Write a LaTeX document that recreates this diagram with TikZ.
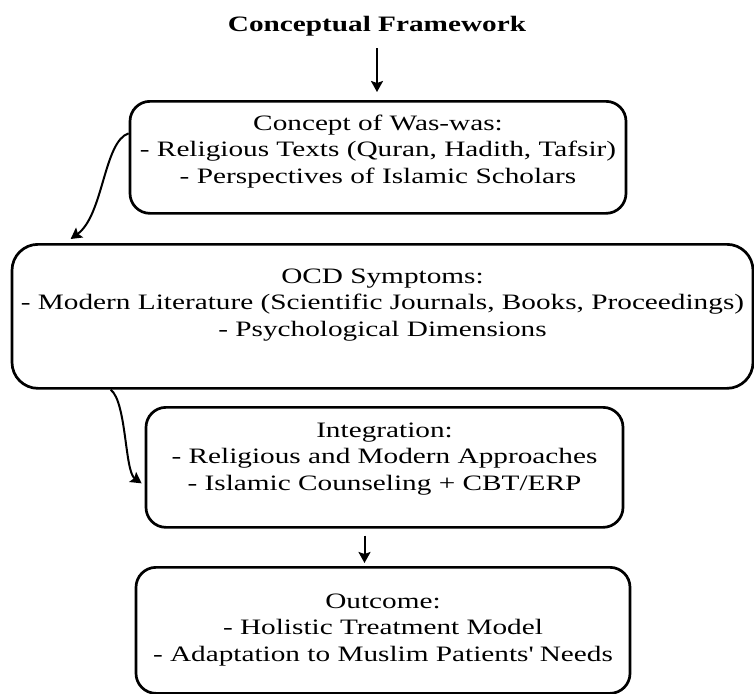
\documentclass[tikz,border=0pt]{standalone}
\usepackage{fontspec}
\setmainfont[FakeStretch=1.33]{Liberation Serif}
\usetikzlibrary{arrows.meta}
\tikzset{
  box/.style={draw, line width=2.7pt, rounded corners=20pt, inner sep=0pt, anchor=north, align=center, font=\fontsize{22}{26.5}\selectfont},
  arr/.style={line width=2pt, -{Stealth[length=11pt,width=12pt,inset=2pt]}}
}
\begin{document}
\begin{tikzpicture}[x=1pt,y=1pt]
\useasboundingbox (0,0) rectangle (754,-693);
\node at (377,-32) [anchor=base, font=\fontsize{22}{26.5}\selectfont\bfseries](title){Conceptual Framework};
\node at (378,-100) [box, minimum width=496pt, text height=82pt, text depth=30pt](concept){Concept of Was-was:\\- Religious Texts (Quran, Hadith, Tafsir)\\- Perspectives of Islamic Scholars};
\node at (382.5,-243) [box, rounded corners=26pt, minimum width=741pt, text height=92pt, text depth=52pt](ocd){OCD Symptoms:\\- Modern Literature (Scientific Journals, Books, Proceedings)\\- Psychological Dimensions};
\node at (384.5,-406) [box, minimum width=477pt, text height=83pt, text depth=37pt](integ){Integration:\\- Religious and Modern Approaches\\- Islamic Counseling + CBT/ERP};
\node at (383,-566) [box, minimum width=494pt, text height=94pt, text depth=32pt](outcome){Outcome:\\- Holistic Treatment Model\\- Adaptation to Muslim Patients\textquotesingle{} Needs};
\draw[arr, shorten <=8pt, shorten >=8pt] (title.south) -- (title.south |- concept.north);
\draw[arr] ([yshift=24pt]concept.west) .. controls +(-25,-8) and +(33,24) .. ([xshift=60pt,yshift=4pt]ocd.north west);
\draw[arr] ([xshift=100pt]ocd.south west) .. controls +(16,-12) and +(-17,12) .. ([xshift=-3pt,yshift=-16pt]integ.west);
\draw[arr, shorten <=7pt, shorten >=3pt] ([xshift=-20pt]integ.south) -- ([xshift=-20pt]integ.south |- outcome.north);
\end{tikzpicture}
\end{document}
